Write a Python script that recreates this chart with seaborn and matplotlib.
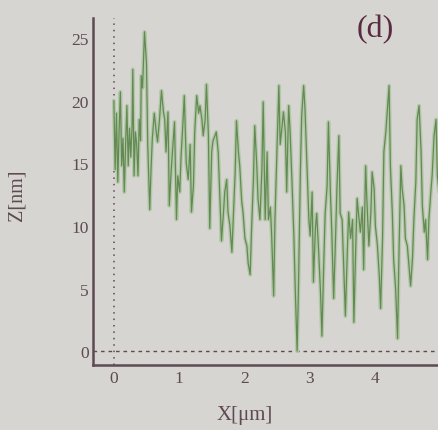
import numpy as np
import pandas as pd
import matplotlib
matplotlib.use("Agg")
import matplotlib.pyplot as plt
import seaborn as sns
from matplotlib.ticker import MultipleLocator

# Height profile along the scan line
x_um = [
    0.00, 0.02, 0.04, 0.06, 0.08, 0.10, 0.12, 0.14, 0.16, 0.18,
    0.20, 0.22, 0.24, 0.26, 0.28, 0.29, 0.31, 0.33, 0.35, 0.37,
    0.39, 0.41, 0.42, 0.44, 0.47, 0.50, 0.52, 0.55, 0.57, 0.59,
    0.62, 0.65, 0.67, 0.70, 0.73, 0.76, 0.78, 0.80, 0.83, 0.85,
    0.88, 0.90, 0.93, 0.96, 0.98, 1.01, 1.03, 1.06, 1.08, 1.11,
    1.14, 1.17, 1.19, 1.22, 1.24, 1.27, 1.30, 1.32, 1.35, 1.37,
    1.40, 1.42, 1.45, 1.47, 1.50, 1.52, 1.55, 1.57, 1.60, 1.63,
    1.65, 1.68, 1.70, 1.73, 1.75, 1.78, 1.81, 1.83, 1.86, 1.88,
    1.91, 1.93, 1.96, 1.98, 2.01, 2.04, 2.06, 2.09, 2.11, 2.14,
    2.16, 2.19, 2.21, 2.24, 2.27, 2.29, 2.32, 2.35, 2.37, 2.40,
    2.42, 2.45, 2.47, 2.50, 2.53, 2.55, 2.58, 2.60, 2.63, 2.65,
    2.68, 2.70, 2.73, 2.76, 2.78, 2.81, 2.83, 2.86, 2.88, 2.91,
    2.93, 2.96, 2.99, 3.01, 3.04, 3.06, 3.09, 3.11, 3.14, 3.17,
    3.19, 3.22, 3.24, 3.27, 3.29, 3.32, 3.34, 3.37, 3.40, 3.42,
    3.45, 3.47, 3.50, 3.53, 3.55, 3.58, 3.60, 3.63, 3.66, 3.68,
    3.71, 3.73, 3.76, 3.78, 3.81, 3.83, 3.86, 3.88, 3.91, 3.94,
    3.96, 3.99, 4.01, 4.04, 4.07, 4.09, 4.12, 4.14, 4.17, 4.19,
    4.22, 4.24, 4.27, 4.29, 4.32, 4.35, 4.37, 4.40, 4.42, 4.45,
    4.47, 4.50, 4.53, 4.55, 4.58, 4.60, 4.63, 4.65, 4.68, 4.71,
    4.73, 4.76, 4.78, 4.81, 4.83, 4.86, 4.88, 4.91, 4.94, 4.96,
    5.00,
]
z_nm = [
    20.0, 14.5, 19.0, 13.5, 17.5, 20.7, 14.8, 17.0, 12.7, 16.5,
    19.6, 14.8, 17.8, 15.5, 18.0, 22.5, 14.0, 17.5, 16.5, 14.0,
    18.5, 16.8, 22.0, 21.0, 25.5, 23.0, 16.4, 11.3, 14.5, 17.0,
    19.0, 17.5, 16.7, 18.5, 20.8, 19.1, 18.5, 15.9, 19.1, 11.6,
    14.5, 16.0, 18.3, 10.5, 14.0, 12.7, 15.5, 18.3, 20.4, 15.0,
    13.7, 16.5, 11.1, 13.2, 17.5, 20.4, 19.0, 19.6, 18.5, 17.2,
    18.5, 21.3, 17.2, 9.8, 15.9, 16.8, 17.2, 17.5, 15.9, 11.6,
    8.8, 11.0, 12.7, 13.7, 11.1, 10.0, 7.9, 10.5, 14.3, 18.4,
    15.9, 14.8, 12.0, 11.1, 9.0, 8.4, 7.0, 6.1, 9.5, 13.7,
    18.0, 15.0, 12.2, 10.5, 14.5, 19.9, 10.5, 15.9, 10.5, 11.5,
    9.2, 4.4, 10.5, 15.9, 21.2, 16.5, 18.0, 19.1, 17.5, 12.7,
    19.6, 17.8, 13.7, 9.2, 5.2, 0.0, 4.9, 14.3, 18.8, 21.2,
    19.4, 15.0, 10.5, 9.2, 12.7, 5.5, 9.8, 11.0, 8.0, 4.5,
    1.2, 7.3, 11.0, 13.2, 18.3, 12.7, 9.8, 4.2, 9.2, 13.0,
    17.2, 11.0, 10.5, 6.0, 2.8, 8.0, 11.1, 9.0, 10.5, 2.3,
    8.5, 12.2, 10.5, 9.5, 11.5, 6.5, 14.8, 12.0, 8.4, 11.0,
    14.3, 13.0, 10.0, 8.5, 6.0, 3.4, 9.0, 15.9, 17.5, 19.0,
    21.2, 14.8, 11.0, 7.3, 5.0, 1.0, 7.3, 14.8, 13.0, 11.6,
    9.0, 8.4, 6.5, 5.2, 7.5, 10.5, 13.5, 18.5, 19.6, 16.0,
    11.6, 9.5, 10.5, 7.3, 10.5, 12.7, 14.0, 17.2, 18.5, 14.0,
    12.0,
]
x_ticks = [0, 1, 2, 3, 4]
y_ticks = [0, 5, 10, 15, 20, 25]
panel_label = "(d)"

profile = pd.DataFrame({"X": x_um, "Z": z_nm})

sns.set_theme(style="white")
plt.rcParams["font.family"] = ["Liberation Serif", "DejaVu Serif"]

bg = "#d6d5d1"
ink = "#5e4a52"

fig = plt.figure(figsize=(4.38, 4.31), dpi=100, facecolor=bg)
ax = fig.add_axes([0.212, 0.151, 0.788, 0.805])
ax.set_facecolor(bg)

# reference lines at x = 0 and z = 0
ax.axvline(0, color=ink, lw=1.1, dashes=(1.0, 3.2), zorder=1)
ax.axhline(0, color=ink, lw=1.0, dashes=(2.6, 2.8), zorder=1)

# profile: pale halo with a darker core
sns.lineplot(data=profile, x="X", y="Z", sort=False, estimator=None,
             color="#b3c8a8", lw=2.8, ax=ax, zorder=2)
sns.lineplot(data=profile, x="X", y="Z", sort=False, estimator=None,
             color="#4a7538", lw=0.9, alpha=0.75, ax=ax, zorder=3)

ax.set_xlim(-0.322, 4.97)
ax.set_ylim(-1.1, 26.6)

ax.set_xticks(x_ticks)
ax.set_yticks(y_ticks)
ax.xaxis.set_minor_locator(MultipleLocator(0.5))
ax.yaxis.set_minor_locator(MultipleLocator(2.5))

for side in ("top", "right"):
    ax.spines[side].set_visible(False)
for side in ("left", "bottom"):
    ax.spines[side].set_color(ink)
    ax.spines[side].set_linewidth(1.8)

ax.tick_params(axis="y", which="major", direction="in", length=10.5,
               width=1.5, color=ink, labelcolor=ink, labelsize=12.5, pad=3)
ax.tick_params(axis="y", which="minor", direction="in", length=4.5,
               width=1.3, color=ink)
ax.tick_params(axis="x", which="major", direction="in", length=7,
               width=1.4, color=ink, labelcolor=ink, labelsize=12.5, pad=3.5)
ax.tick_params(axis="x", which="minor", direction="in", length=2.2,
               width=1.6, color=ink)

ax.set_xlabel("X[\u03bcm]", fontsize=15, color=ink)
ax.set_ylabel("Z[nm]", fontsize=14.5, color=ink)
ax.xaxis.set_label_coords((245 - 93) / (438 - 93), -(406 - 366) / 347)
ax.yaxis.set_label_coords(-(93 - 27) / (438 - 93), (366 - 195) / 347)

ax.text(375 / 438, 1 - 30 / 431, panel_label, transform=fig.transFigure,
        ha="center", va="center", fontsize=23, color="#5a2a40")

fig.savefig("out.png", dpi=100, facecolor=bg)
